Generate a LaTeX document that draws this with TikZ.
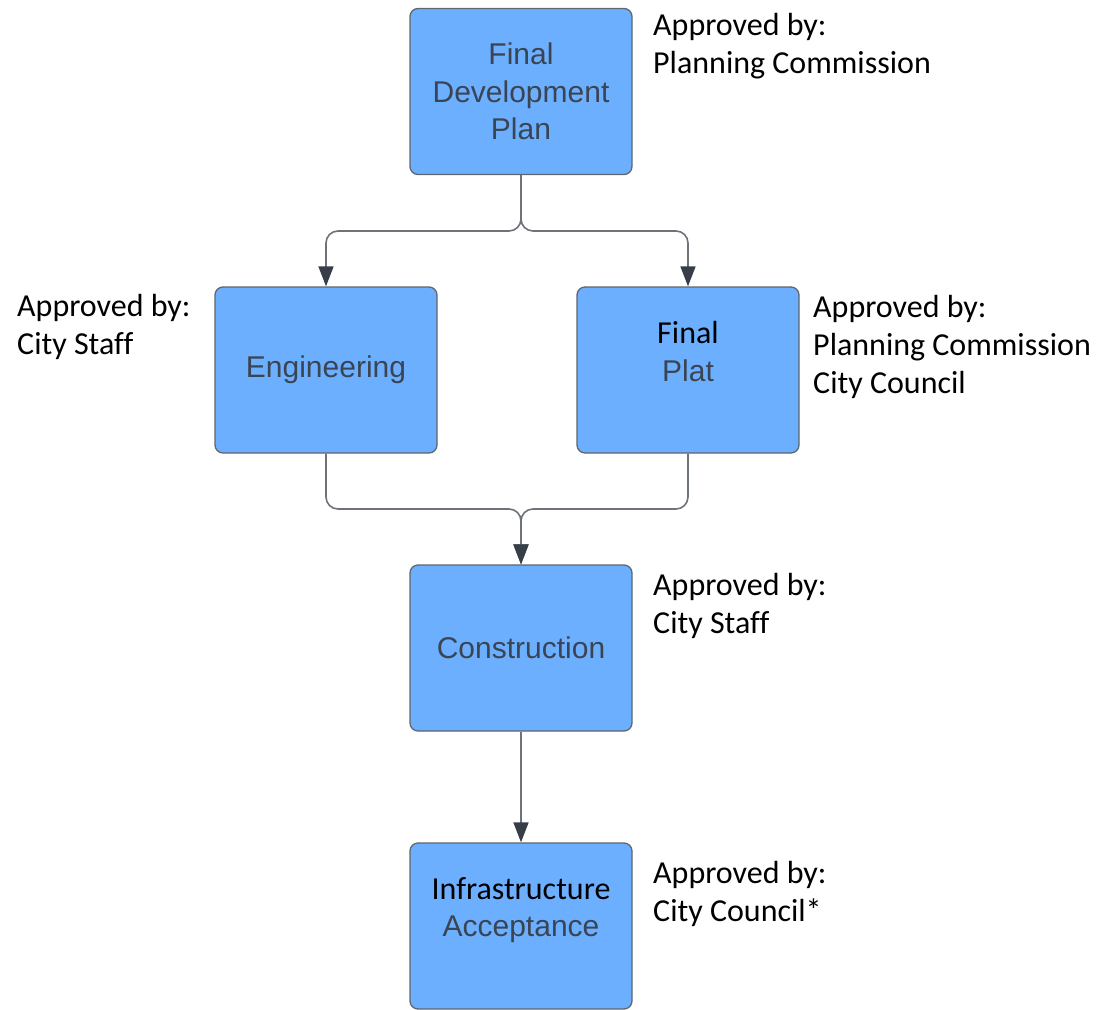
\documentclass[tikz,border=0pt]{standalone}
\usepackage{fontspec}
\setmainfont{Carlito}[Ligatures=CommonOff]
\newfontfamily\arialfont{Liberation Sans}
\usetikzlibrary{arrows.meta}
\definecolor{boxblue}{HTML}{6CAFFF}
\definecolor{boxline}{HTML}{5E6670}
\definecolor{boxtext}{HTML}{3B4452}
\definecolor{wiregray}{HTML}{6E737A}
\definecolor{tipgray}{HTML}{373E48}
% black Carlito words inside the grey box text
\newcommand{\blackword}[1]{{\normalfont\color{black}\fontsize{32}{37.5}\selectfont #1}}

\begin{document}
\begin{tikzpicture}[x=1pt,y=-1pt,
  stage/.style={draw=boxline,line width=1.3pt,fill=boxblue,rounded corners=8pt,
    minimum width=222pt,minimum height=166pt,inner sep=0pt,align=center,
    text=boxtext,font=\arialfont\fontsize{30}{37.5}\selectfont},
  note/.style={anchor=north west,inner sep=0pt,align=left,
    font=\fontsize{32}{38}\selectfont},
  link/.style={draw=wiregray,line width=1.6pt,rounded corners=12pt,
    -{Triangle[length=20pt,width=15pt,color=tipgray]}}]
\useasboundingbox (0,0) rectangle (1096,1010);

% stages
\node[stage] (fdp) at (521,91.5) {Final\\Development\\Plan};
\node[stage] (eng) at (326,370) {Engineering};
\node[stage] (plat) at (688,370) {\blackword{Final}\\Plat\\~};
\node[stage] (con) at (521,648) {Construction};
\node[stage] (acc) at (521,926) {\blackword{Infrastructure}\\Acceptance\\~};

% who approves each stage
\node[note] (fdpnote) at (653,13) {Approved by:\\Planning Commission};
\node[note] (engnote) at (17,294) {Approved by:\\City Staff};
\node[note] (platnote) at (813,295) {Approved by:\\Planning Commission\\City Council};
\node[note] (connote) at (653,573) {Approved by:\\City Staff};
\node[note] (accnote) at (653,861) {Approved by:\\City Council*};

% connectors
\coordinate (split) at (521,231);
\coordinate (join) at (521,509);
\draw[link] (fdp.south) -- (split) -| (eng.north);
\draw[link] (fdp.south) -- (split) -| (plat.north);
\draw[link] (eng.south) |- (join) -- (con.north);
\draw[link] (plat.south) |- (join) -- (con.north);
\draw[link] (con) -- (acc);
\end{tikzpicture}
\end{document}
